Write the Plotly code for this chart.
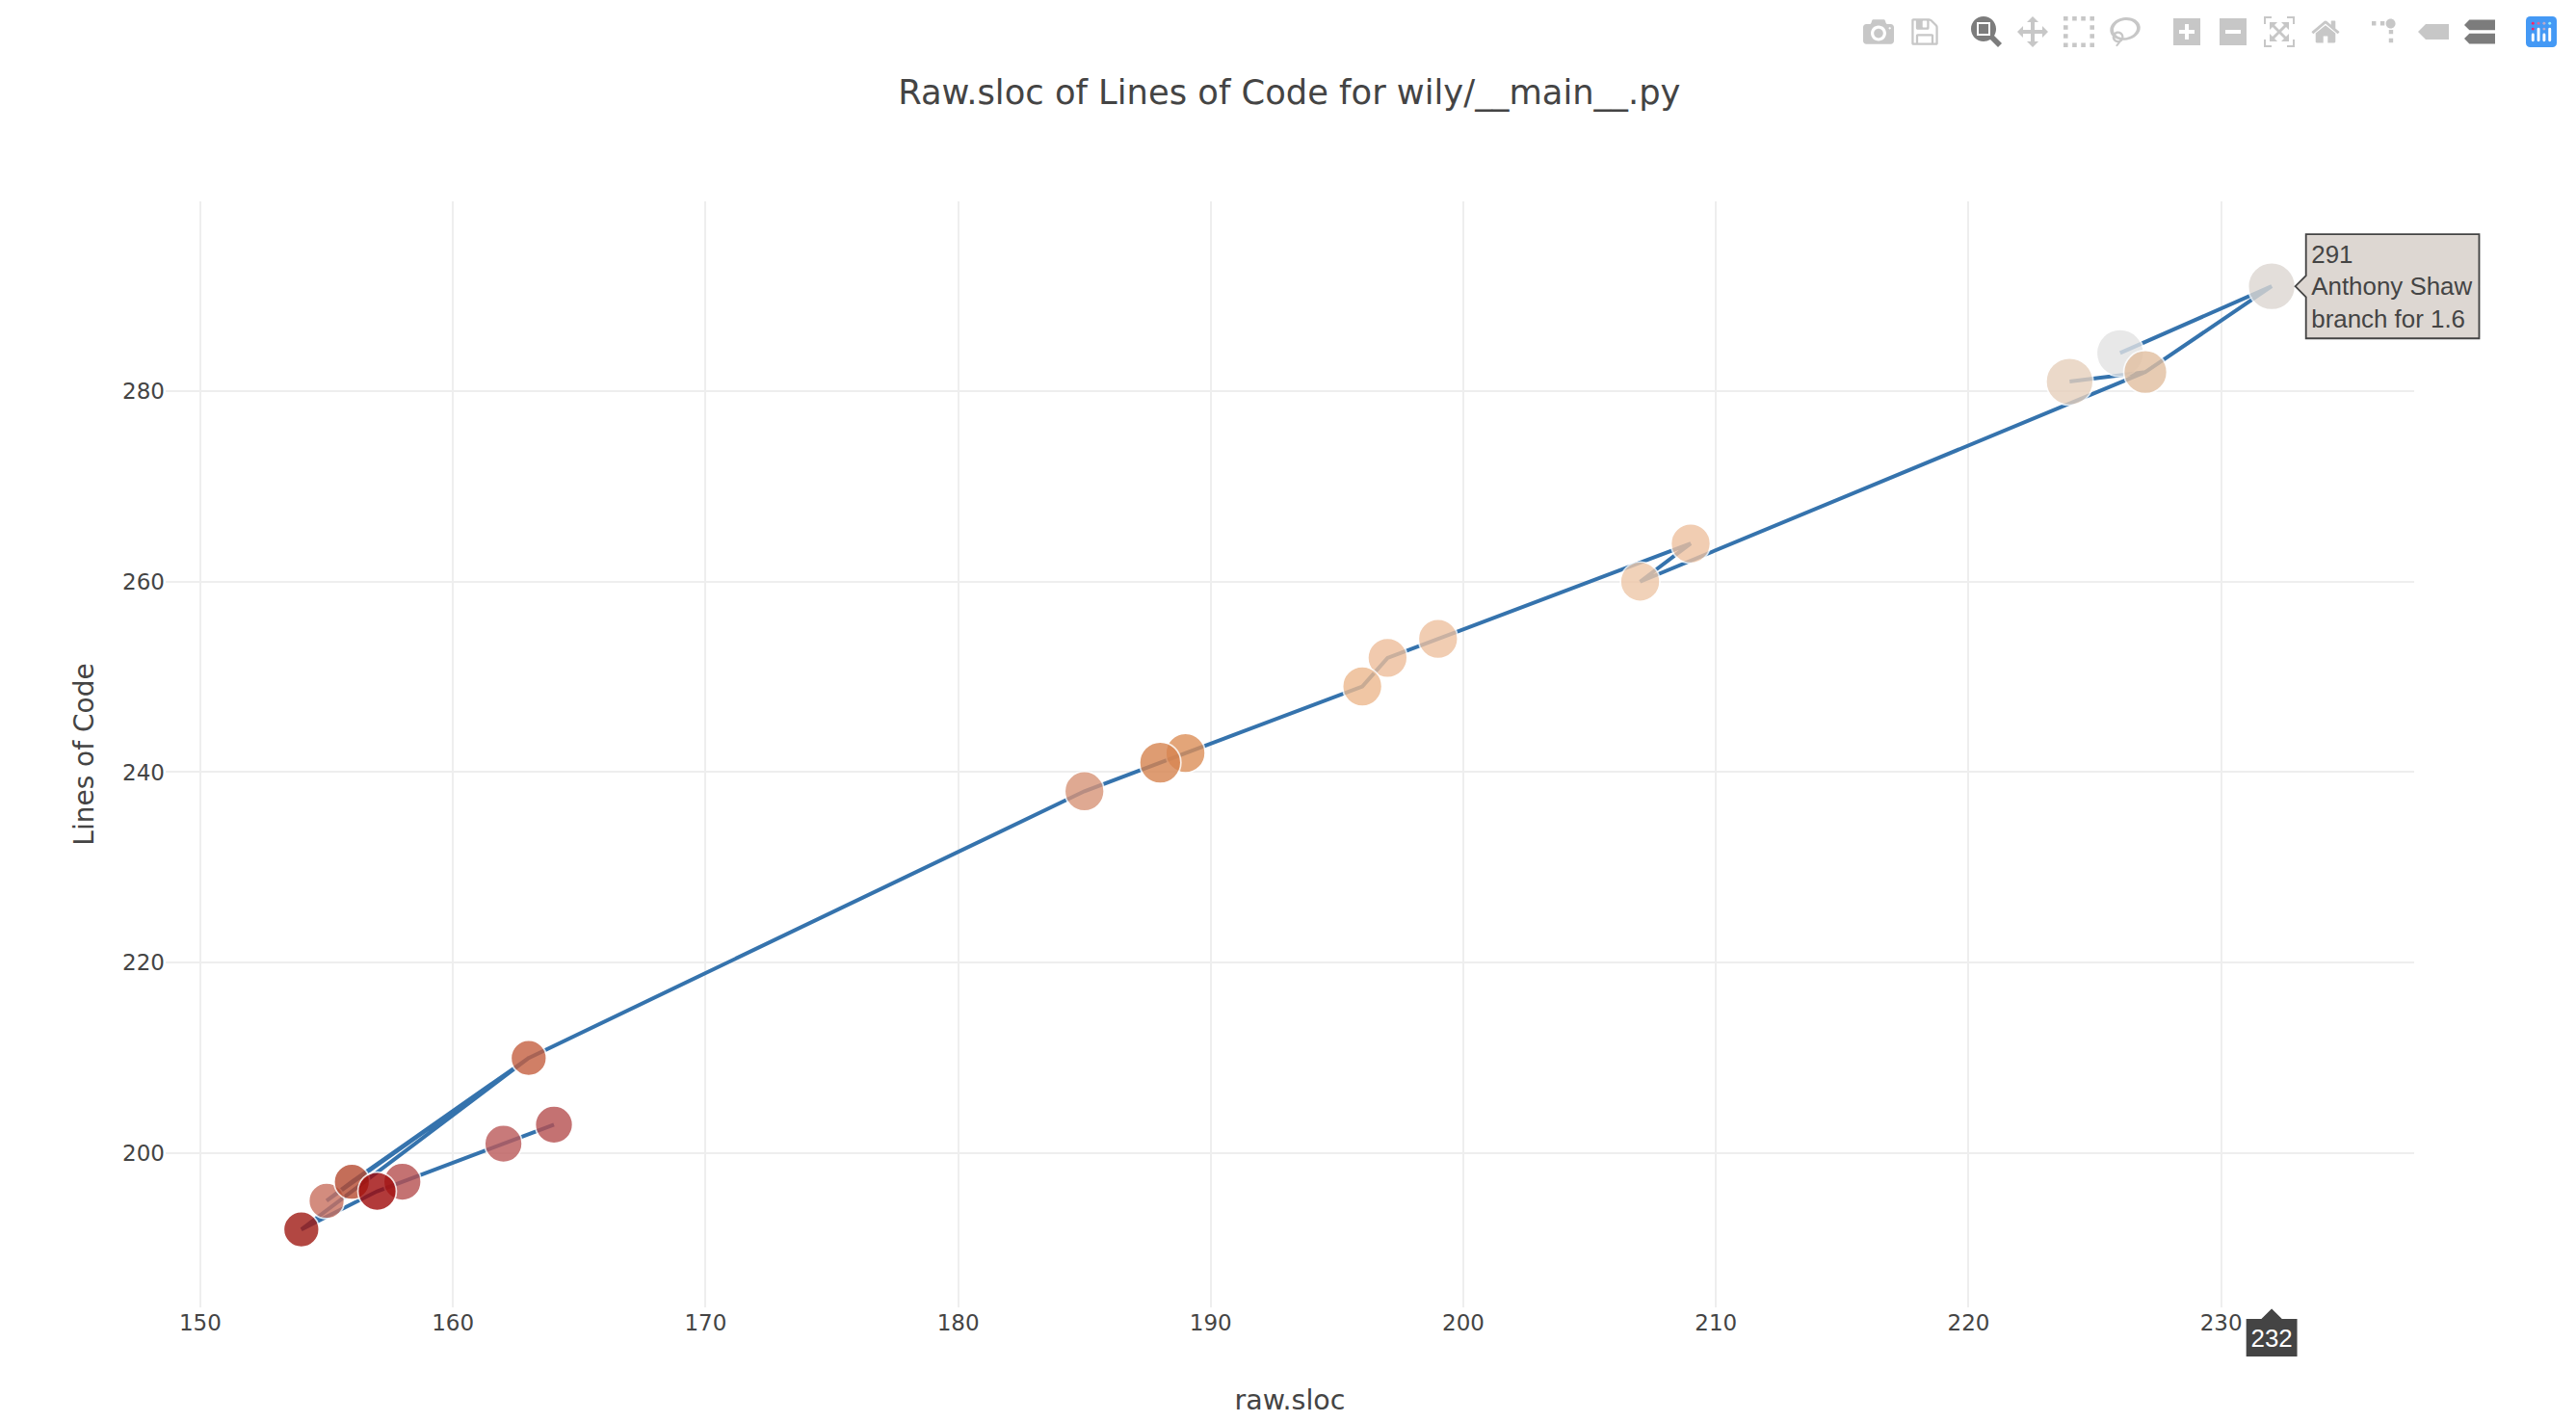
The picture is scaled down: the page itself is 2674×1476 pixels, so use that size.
import plotly.graph_objects as go

# commit path as the line visits it
path_x = [164, 162, 158, 157, 154, 163, 155, 156, 163, 185, 188, 189, 196, 197, 199, 209, 207, 227, 224, 227, 232, 226]
path_y = [203, 201, 197, 196, 192, 210, 195, 197, 210, 238, 241, 242, 249, 252, 254, 264, 260, 282, 281, 282, 291, 284]

# individual revisions, bottom-most marker first
point_x = [226, 232, 224, 227, 209, 207, 199, 197, 196, 189, 188, 185, 163, 164, 162, 158, 155, 156, 157, 154]
point_y = [284, 291, 281, 282, 264, 260, 254, 252, 249, 242, 241, 238, 210, 203, 201, 197, 195, 197, 196, 192]
point_size = [49, 49, 49, 45, 41, 41, 41, 41, 41, 41, 43, 41, 37, 39, 39, 39, 37, 37, 40, 37]
point_color = ["#e3e3e3", "#ddd7d2", "#e7d0bc", "#e2bfa0", "#eec1a0", "#eec7a8", "#eec1a0", "#eebe9a", "#edb98e",
               "#dd8f58", "#d78450", "#d89478", "#c56040", "#b64f50", "#bb5a5a", "#b64f50", "#c9705f", "#b64a30",
               "#a00a0a", "#a01a14"]
point_text = ["", "Anthony Shaw<br>branch for 1.6"] + [""] * 18

x_ticks = [150, 160, 170, 180, 190, 200, 210, 220, 230]
y_ticks = [200, 220, 240, 260, 280]

fig = go.Figure()
fig.add_trace(go.Scatter(x=path_x, y=path_y, mode="lines", hoverinfo="skip", showlegend=False,
                         line=dict(color="#3573ad", width=4)))
fig.add_trace(go.Scatter(x=point_x, y=point_y, mode="markers", text=point_text, hoverinfo="x+y+text", showlegend=False,
                         marker=dict(size=point_size, color=point_color, opacity=0.8,
                                     line=dict(color="white", width=1.7)),
                         hoverlabel=dict(bordercolor="#444",
                                         font=dict(family="Liberation Sans", size=14, color="#444"))))

fig.update_layout(
    width=2674, height=1476,
    margin=dict(l=172, r=168, t=209, b=119, autoexpand=False),
    paper_bgcolor="white", plot_bgcolor="white",
    font=dict(family="DejaVu Sans", color="#444", size=22),
    title=dict(text="Raw.sloc of Lines of Code for wily/__main__.py", x=0.5005, xanchor="center",
               y=0.935, yanchor="middle", font=dict(size=35.3, color="#444")),
    hovermode="x",
    dragmode="zoom",
    hoverlabel=dict(font=dict(family="Liberation Sans", size=14)),
    xaxis=dict(range=[148.63, 237.64], tickvals=x_ticks, gridcolor="#eee", gridwidth=2, zeroline=False,
               showline=False, ticks="", tickfont=dict(size=23),
               title=dict(text="raw.sloc", font=dict(size=28.5), standoff=58)),
    yaxis=dict(range=[183.82, 299.92], tickvals=y_ticks, gridcolor="#eee", gridwidth=2, zeroline=False,
               showline=False, ticks="", tickfont=dict(size=23),
               title=dict(text="Lines of Code", font=dict(size=28), standoff=21)),
)

post = """
document.body.style.margin = '0';
var st = document.createElement('style');
st.textContent = '.modebar{transform:translate(-10px,9px) scale(2);transform-origin:top right;}';
document.head.appendChild(st);
var gd = document.getElementById('{plot_id}');
var groups = gd.querySelectorAll('.modebar-group');
var logo = groups[groups.length - 1];
var bg = logo.querySelector('svg rect');
if (bg) { bg.style.setProperty('fill', '#4499f5', 'important'); }
Plotly.Fx.hover(gd, {xval: 232, yval: 291}, 'xy');
gd.querySelectorAll('.hoverlayer g.hovertext, .hoverlayer g.axistext').forEach(function (g) {
    g.setAttribute('transform', (g.getAttribute('transform') || '') + ' scale(1.85)');
});
"""

config = dict(displayModeBar=True, displaylogo=True, showSendToCloud=True,
              modeBarButtons=[["toImage", "sendDataToCloud"],
                              ["zoom2d", "pan2d", "select2d", "lasso2d"],
                              ["zoomIn2d", "zoomOut2d", "autoScale2d", "resetScale2d"],
                              ["toggleSpikelines", "hoverClosestCartesian", "hoverCompareCartesian"]])
fig.write_html("out.html", config=config, post_script=post)
